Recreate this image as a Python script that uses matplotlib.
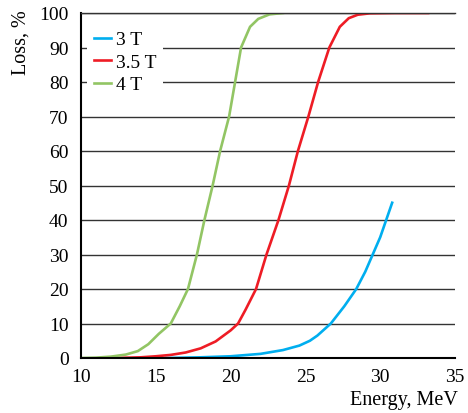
import numpy as np
import matplotlib
matplotlib.use('Agg')
import matplotlib.pyplot as plt

plt.rcParams['font.family'] = ['Liberation Serif', 'DejaVu Serif']

# values
e_3t = [15.7, 18.0, 20.0, 22.0, 23.5, 24.6, 25.3, 25.8, 26.7, 27.6, 28.4, 29.0, 29.5, 30.0, 30.4, 30.8]
loss_3t = [0, 0.2, 0.5, 1.2, 2.3, 3.6, 5.0, 6.5, 10, 15, 20, 25, 30, 35, 40, 45]

e_35t = [12.3, 14.0, 15.0, 16.0, 17.0, 18.0, 19.0, 20.0, 20.5, 21.0, 21.7, 22.4, 23.2, 23.9,
         24.5, 25.2, 25.85, 26.6, 27.3, 27.9, 28.5, 29.3, 31.0, 33.2]
loss_35t = [0, 0.2, 0.5, 0.9, 1.6, 2.8, 4.8, 8.0, 10, 14, 20, 30, 40, 50,
            60, 70, 80, 90, 96, 98.5, 99.5, 99.9, 100, 100]

e_4t = [10.0, 11.0, 12.0, 13.0, 13.8, 14.5, 15.2, 16.0, 16.6, 17.15, 17.75, 18.25, 18.8,
        19.3, 19.9, 20.3, 20.7, 21.3, 21.85, 22.6, 23.5]
loss_4t = [0, 0.1, 0.4, 1.0, 2.0, 4.0, 7.0, 10, 15, 20, 30, 40, 50,
           60, 70, 80, 90, 96, 98.3, 99.6, 100]

labels = ['3 T', '3.5 T', '4 T']
colors = ['#00aeef', '#ee1c25', '#92c564']

fig = plt.figure(figsize=(4.68, 4.14), dpi=100)
ax = fig.add_axes([81/468, 1-359/414, 374/468, 345/414])

ax.plot(e_3t, loss_3t, color=colors[0], lw=1.9, label=labels[0], solid_joinstyle='round')
ax.plot(e_35t, loss_35t, color=colors[1], lw=1.9, label=labels[1], solid_joinstyle='round')
ax.plot(e_4t, loss_4t, color=colors[2], lw=1.9, label=labels[2], solid_joinstyle='round')

ax.set_xlim(10, 35)
ax.set_ylim(0, 100)
ax.set_xticks(np.arange(10, 36, 5))
ax.set_yticks(np.arange(0, 101, 10))
ax.yaxis.grid(True, color='#333333', lw=1.0)
ax.set_axisbelow(True)
ax.tick_params(length=0, labelsize=14)
ax.tick_params(axis='y', pad=9)
ax.tick_params(axis='x', pad=7)

ax.spines['right'].set_visible(False)
ax.spines['top'].set_color('#333333')
ax.spines['top'].set_linewidth(1.0)
ax.spines['left'].set_linewidth(1.5)
ax.spines['bottom'].set_linewidth(1.5)

leg = ax.legend(loc='upper left', bbox_to_anchor=(0.0, 0.985), fontsize=14,
                frameon=True, fancybox=False, handlelength=0.9, handletextpad=0.25,
                labelspacing=0.25, borderpad=0.35, borderaxespad=0.3)
leg.get_frame().set_facecolor('white')
leg.get_frame().set_edgecolor('none')
leg.get_frame().set_alpha(1)

fig.text(21/468, 1-10/414, 'Loss, %', rotation=90, ha='center', va='top', fontsize=14.5)
fig.text(458/468, 1-401/414, 'Energy, MeV', ha='right', va='center', fontsize=14.5)

fig.savefig('out.png', dpi=100)
